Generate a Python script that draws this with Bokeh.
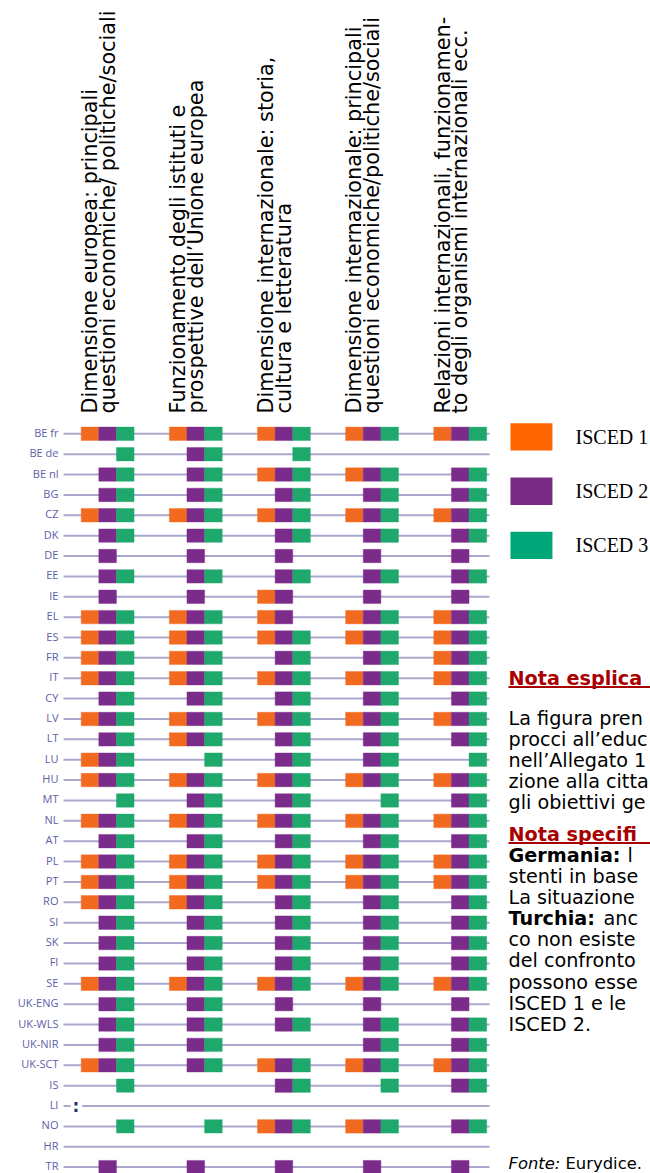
import math
from bokeh.plotting import figure
from bokeh.models import Range1d
from bokeh.core.properties import value
from bokeh.embed import file_html
from bokeh.resources import INLINE

# ---------------- data ----------------
countries = ["BE fr", "BE de", "BE nl", "BG", "CZ", "DK", "DE", "EE", "IE", "EL",
             "ES", "FR", "IT", "CY", "LV", "LT", "LU", "HU", "MT", "NL", "AT",
             "PL", "PT", "RO", "SI", "SK", "FI", "SE", "UK-ENG", "UK-WLS",
             "UK-NIR", "UK-SCT", "IS", "LI", "NO", "HR", "TR"]

levels = ["ISCED 1", "ISCED 2", "ISCED 3"]

topic_lines = [
    ["Dimensione europea: principali", "questioni economiche/ politiche/sociali"],
    ["Funzionamento degli istituti e", "prospettive dell’Unione europea"],
    ["Dimensione internazionale: storia,", "cultura e letteratura"],
    ["Dimensione internazionale: principali", "questioni economiche/politiche/sociali"],
    ["Relazioni internazionali, funzionamen-", "to degli organismi internazionali ecc."],
]

# per country: ISCED1/ISCED2/ISCED3 presence ("1" = yes), ":" = not available
dim_europea = ["111", "001", "011", "011", "111", "011", "010", "011", "010", "111",
               "111", "111", "111", "011", "111", "011", "111", "111", "001", "111", "011",
               "111", "111", "111", "011", "011", "011", "111", "011", "011",
               "011", "111", "001", ":", "001", "000", "010"]
funz_ue = ["111", "011", "011", "011", "111", "011", "010", "011", "010", "111",
           "111", "111", "111", "011", "111", "111", "001", "111", "011", "111", "011",
           "111", "111", "111", "011", "011", "011", "111", "011", "011",
           "011", "011", "000", ":", "001", "000", "010"]
dim_int_storia = ["111", "001", "111", "011", "111", "011", "010", "011", "110", "110",
                  "111", "011", "111", "011", "111", "011", "011", "111", "011", "111", "011",
                  "111", "111", "011", "011", "011", "011", "111", "010", "011",
                  "000", "111", "011", ":", "111", "000", "010"]
dim_int_questioni = ["111", "000", "111", "011", "111", "011", "010", "011", "010", "111",
                     "111", "011", "111", "011", "111", "011", "011", "111", "001", "111", "011",
                     "111", "111", "011", "011", "011", "011", "111", "010", "011",
                     "011", "111", "001", ":", "111", "000", "010"]
relazioni_int = ["111", "000", "011", "011", "111", "011", "010", "011", "010", "111",
                 "111", "111", "111", "011", "111", "011", "001", "111", "011", "111", "011",
                 "111", "111", "011", "011", "011", "011", "111", "010", "011",
                 "011", "111", "011", ":", "011", "000", "010"]
topics = [dim_europea, funz_ue, dim_int_storia, dim_int_questioni, relazioni_int]

note_head1 = "Nota esplica"
note_body1 = ["La figura pren", "procci all’educ", "nell’Allegato 1",
              "zione alla citta", "gli obiettivi ge"]
note_head2 = "Nota specifi"
note_body2 = [("Germania:", "l"), ("", "stenti in base"), ("", "La situazione"),
              ("Turchia:", "anc"), ("", "co non esiste"), ("", "del confronto"),
              ("", "possono esse"), ("", "ISCED 1 e le"), ("", "ISCED 2.")]
source_label = ("Fonte:", "Eurydice.")

# ---------------- style ----------------
lvl_colors = ["#F26A1F", "#7B2C8A", "#1FA86C"]
legend_colors = ["#FF6600", "#772A82", "#00A677"]
line_color = "#A9A9CF"
label_color = "#5E5EA8"
red = "#A80000"
FONT = "DejaVu Sans"

W, H = 650, 1173
UX = 17.63   # px per x unit (one square)
UY = 20.37   # px per row
X0 = 89.5    # px of x=0
Y0 = 433.3   # px of row 0

p = figure(width=W, height=H, output_backend="svg", toolbar_location=None,
           x_range=Range1d(-X0 / UX, (W - X0) / UX),
           y_range=Range1d((H - Y0) / UY, -Y0 / UY),
           x_axis_location=None, y_axis_location=None, min_border=0)
p.grid.visible = False
p.outline_line_color = None
p.background_fill_color = "white"
p.border_fill_color = "white"

n_groups = len(topics)
x_line_start, x_line_end = -1.5, (n_groups - 1) * 5 + 2.66

# row lines
x0s, x1s, ys = [], [], []
for r, c in enumerate(countries):
    if topics[0][r] == ":":
        x0s += [x_line_start, -0.44]
        x1s += [-1.1, x_line_end]
        ys += [r, r]
    else:
        x0s.append(x_line_start); x1s.append(x_line_end); ys.append(r)
p.segment(x0=x0s, y0=ys, x1=x1s, y1=ys, line_color=line_color, line_width=2)

# squares
sx, sy, sc = [], [], []
for g, codes in enumerate(topics):
    for r, code in enumerate(codes):
        if code == ":":
            continue
        for l, ch in enumerate(code):
            if ch == "1":
                sx.append(g * 5 + l); sy.append(r); sc.append(lvl_colors[l])
p.rect(x=sx, y=sy, width=1, height=0.66, fill_color=sc, line_color=sc, line_width=0.4)

# not available marker
na_rows = [r for r in range(len(countries)) if topics[0][r] == ":"]
p.text(x=[-0.8] * len(na_rows), y=na_rows, text=[":"] * len(na_rows),
       text_font=value(FONT), text_font_style="bold", text_font_size="17px",
       text_color="#2E2E70", text_align="center", text_baseline="middle")

# country labels
p.text(x=[-1.79] * len(countries), y=list(range(len(countries))), text=countries,
       text_font=value("Open Sans"), text_font_size="11px", text_color=label_color,
       text_align="right", text_baseline="middle", y_offset=-1.5)

# column headers (rotated)
hx, hy, ht = [], [], []
for g, lines in enumerate(topic_lines):
    for k, t in enumerate(lines):
        hx.append(g * 5 + k); hy.append(-1.0); ht.append(t)
p.text(x=hx, y=hy, text=ht, angle=math.pi / 2, text_font=value(FONT),
       text_font_size="20.8px", text_color="black", text_align="left",
       text_baseline="middle")

# legend
leg_x = 25.04
leg_y = [0.15, 2.82, 5.48]
p.rect(x=[leg_x] * 3, y=leg_y, width=2.38, height=1.34, fill_color=legend_colors,
       line_color=None)
p.text(x=[27.54] * 3, y=leg_y, text=levels, text_font=value("Liberation Serif"),
       text_font_size="20px", text_color="black", text_align="left",
       text_baseline="middle")

# notes
nx = (508 - X0) / UX
fs = "19.2px"
step = 21.1 / UY
h1y = 12.01
p.text(x=[nx], y=[h1y], text=[note_head1], text_font=value(FONT), text_font_style="bold",
       text_font_size=fs, text_color=red, text_baseline="middle")
p.segment(x0=[nx], x1=[40], y0=[h1y + 0.42], y1=[h1y + 0.42], line_color=red, line_width=2)
b1y = [13.98 + i * step for i in range(len(note_body1))]
p.text(x=[nx] * len(b1y), y=b1y, text=note_body1, text_font=value(FONT),
       text_font_size=fs, text_color="black", text_baseline="middle")
h2y = 19.67
p.text(x=[nx], y=[h2y], text=[note_head2], text_font=value(FONT), text_font_style="bold",
       text_font_size=fs, text_color=red, text_baseline="middle")
p.segment(x0=[nx], x1=[40], y0=[h2y + 0.42], y1=[h2y + 0.42], line_color=red, line_width=2)
b2y = [20.70 + i * step for i in range(len(note_body2))]
bold_y = [y for (b, t), y in zip(note_body2, b2y) if b]
bold_t = [b for (b, t), y in zip(note_body2, b2y) if b]
p.text(x=[nx] * len(bold_y), y=bold_y, text=bold_t, text_font=value(FONT),
       text_font_style="bold", text_font_size=fs, text_color="black",
       text_baseline="middle")
offs = {"Germania:": 119, "Turchia:": 95, "": 0}
for (b, t), y in zip(note_body2, b2y):
    p.text(x=[nx], y=[y], text=[t], x_offset=offs[b], text_font=value(FONT),
           text_font_size=fs, text_color="black", text_baseline="middle")
fy = 35.8
p.text(x=[nx], y=[fy], text=[source_label[0]], text_font=value(FONT),
       text_font_style="italic", text_font_size="16.4px", text_color="black",
       text_baseline="middle")
p.text(x=[nx], y=[fy], text=[source_label[1]], x_offset=57, text_font=value(FONT),
       text_font_size="16.4px", text_color="black", text_baseline="middle")

open("out.html", "w").write(file_html(p, INLINE))
